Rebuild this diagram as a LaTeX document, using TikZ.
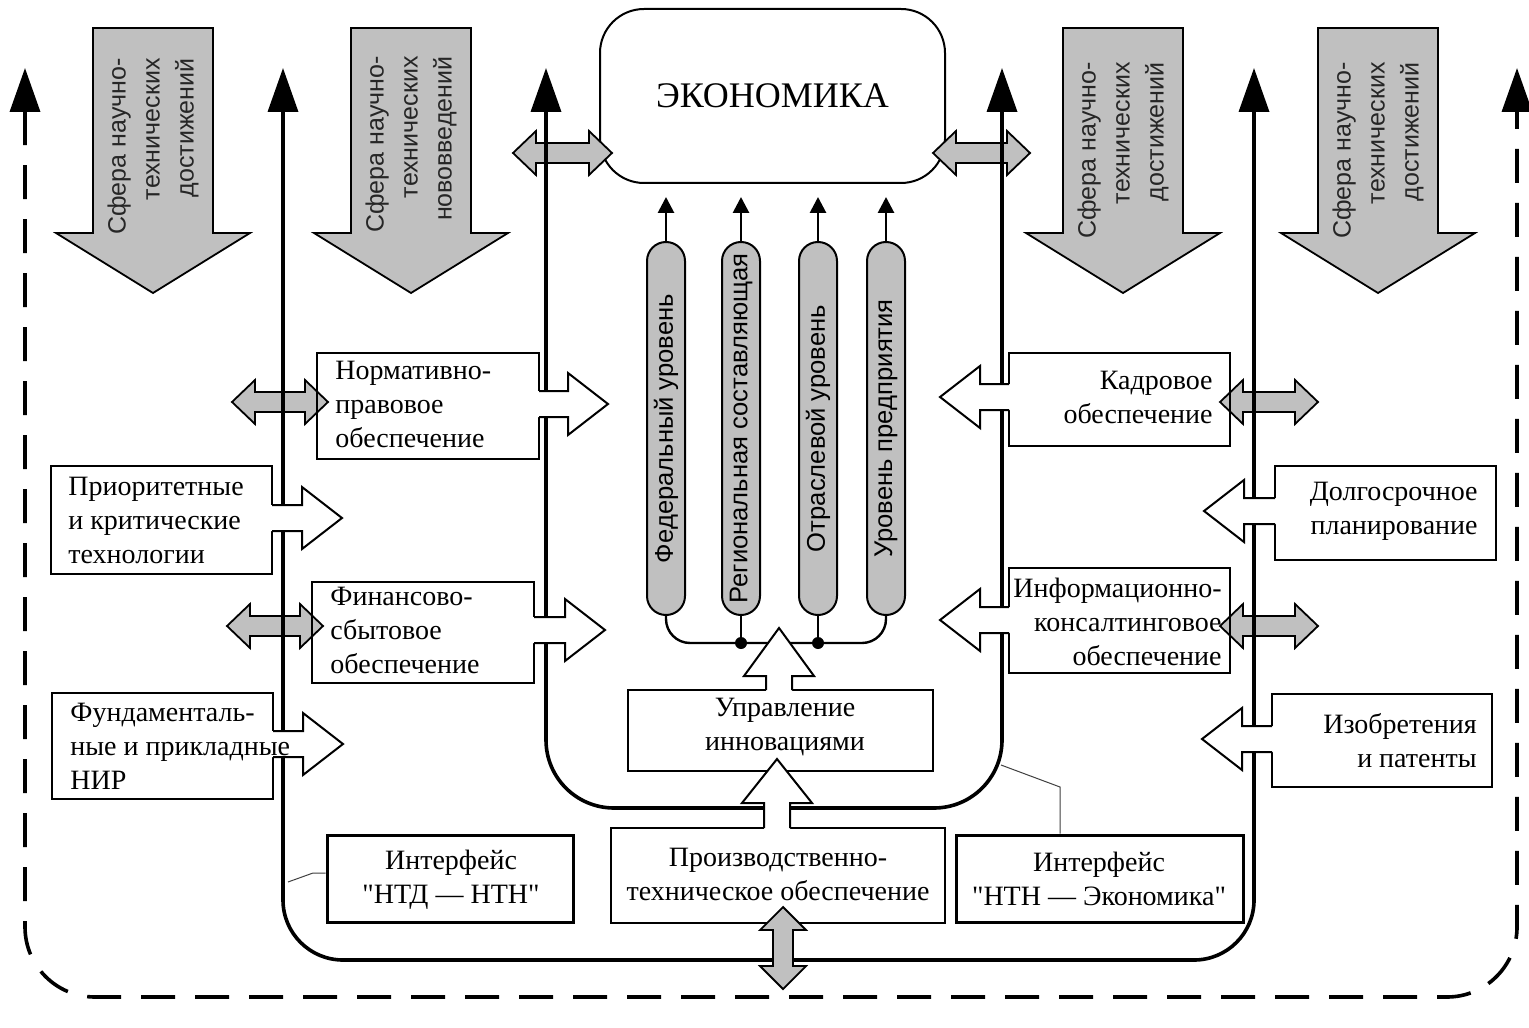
\documentclass[tikz,border=0pt]{standalone}
\usepackage{fontspec}
\setmainfont{Liberation Serif}[Ligatures=TeXOff]
\setsansfont{Liberation Sans}
\usetikzlibrary{arrows.meta}
\definecolor{agray}{RGB}{192,192,192}
\newcommand{\myHDbl}[3]{%
\draw[grayarr] (#1,#3) -- ({#1+23},{#3-22}) -- ({#1+23},{#3-10}) -- ({#2-23},{#3-10}) -- ({#2-23},{#3-22}) -- (#2,#3) -- ({#2-23},{#3+22}) -- ({#2-23},{#3+10}) -- ({#1+23},{#3+10}) -- ({#1+23},{#3+22}) -- cycle;}
\newcommand{\myVDbl}[3]{%
\draw[grayarr] (#1,#2) -- ({#1+23},{#2+23}) -- ({#1+10},{#2+23}) -- ({#1+10},{#3-23}) -- ({#1+23},{#3-23}) -- (#1,#3) -- ({#1-23},{#3-23}) -- ({#1-10},{#3-23}) -- ({#1-10},{#2+23}) -- ({#1-23},{#2+23}) -- cycle;}
\newcommand{\myRArr}[3]{%
\fill[white] ({#1-2},{#3-13}) -- ({#2-40},{#3-13}) -- ({#2-40},{#3-31}) -- (#2,#3) -- ({#2-40},{#3+31}) -- ({#2-40},{#3+13}) -- ({#1-2},{#3+13}) -- cycle;
\draw[wline] (#1,{#3-13}) -- ({#2-40},{#3-13}) -- ({#2-40},{#3-31}) -- (#2,#3) -- ({#2-40},{#3+31}) -- ({#2-40},{#3+13}) -- (#1,{#3+13});}
\newcommand{\myLArr}[3]{%
\fill[white] ({#1+2},{#3-13}) -- ({#2+40},{#3-13}) -- ({#2+40},{#3-31}) -- (#2,#3) -- ({#2+40},{#3+31}) -- ({#2+40},{#3+13}) -- ({#1+2},{#3+13}) -- cycle;
\draw[wline] (#1,{#3-13}) -- ({#2+40},{#3-13}) -- ({#2+40},{#3-31}) -- (#2,#3) -- ({#2+40},{#3+31}) -- ({#2+40},{#3+13}) -- (#1,{#3+13});}
\newcommand{\myUArr}[4]{%
\fill[white] ({#1-13},{#2+2}) -- ({#1-13},{#3+#4}) -- ({#1-35},{#3+#4}) -- (#1,#3) -- ({#1+35},{#3+#4}) -- ({#1+13},{#3+#4}) -- ({#1+13},{#2+2}) -- cycle;
\draw[wline] ({#1-13},#2) -- ({#1-13},{#3+#4}) -- ({#1-35},{#3+#4}) -- (#1,#3) -- ({#1+35},{#3+#4}) -- ({#1+13},{#3+#4}) -- ({#1+13},#2);}
\newcommand{\myDownArr}[1]{%
\draw[grayarr] ({#1-60},28) -- ({#1+60},28) -- ({#1+60},233) -- ({#1+97},233) -- (#1,293) -- ({#1-97},233) -- ({#1-60},233) -- cycle;}
\tikzset{
  thk/.style={line width=1.8pt},
  bothtips/.style={arrows={Triangle[length=22pt,width=15pt]-Triangle[length=22pt,width=15pt]}},
  bx/.style={draw, line width=1pt, inner sep=0pt},
  ibx/.style={draw, line width=1.5pt, inner sep=0pt},
  txt/.style={inner sep=0pt, font=\fontsize{14pt}{17pt}\selectfont},
  grayarr/.style={draw, fill=agray, line width=0.9pt, line join=miter},
  wline/.style={draw, line width=1pt, line join=miter},
  pill/.style={draw, fill=agray, line width=1pt, rotate=90, rounded corners=9.5pt, minimum width=186.5pt, minimum height=19pt, inner sep=0pt, font=\sffamily\fontsize{12.8pt}{14pt}\selectfont},
  pillarr/.style={line width=1.4pt, arrows={-Triangle[length=8pt,width=8pt]}},
  conn/.style={line width=1.2pt},
  dot/.style={circle, fill=black, inner sep=0pt, minimum size=6pt},
  thinc/.style={line width=0.5pt, draw=black!75},
  sphtxt/.style={rotate=90, anchor=east, align=right, inner sep=0pt, text=black!85, font=\sffamily\fontsize{12.5pt}{17pt}\selectfont}
}
\begin{document}
\begin{tikzpicture}[x=0.5pt,y=-0.5pt]
\fill[white] (0,0) rectangle (1529,1027);
\useasboundingbox (0,0) rectangle (1529,1027);
% top grey arrows
\myDownArr{153}
\myDownArr{411}
\myDownArr{1123}
\myDownArr{1378}
% economy box
\node[bx, rounded corners=22pt, minimum width=172.5pt, minimum height=87pt, font=\fontsize{18pt}{20pt}\selectfont] (econ) at (772.5,96) {ЭКОНОМИКА};
% grey double arrows
\myHDbl{513}{612}{153}
\myHDbl{933}{1030}{153}
\myHDbl{232}{328}{402}
\myHDbl{227}{323}{626}
\myHDbl{1220}{1318}{402}
\myHDbl{1220}{1318}{626}
% frame lines
\coordinate (dTL) at (25,68);
\coordinate (dBL) at (25,997);
\coordinate (dBR) at (1517,997);
\coordinate (dTR) at (1517,68);
\coordinate (oTL) at (283,68);
\coordinate (oBL) at (283,960);
\coordinate (oBR) at (1254,960);
\coordinate (oTR) at (1254,68);
\coordinate (uTL) at (546,68);
\coordinate (uBL) at (546,808);
\coordinate (uBR) at (1002,808);
\coordinate (uTR) at (1002,68);
\draw[thk, bothtips, rounded corners=35pt, dash pattern=on 17pt off 10pt] (dTL) -- (dBL) -- (dBR) -- (dTR);
\draw[thk, bothtips, rounded corners=30pt] (oTL) -- (oBL) -- (oBR) -- (oTR);
\draw[thk, bothtips, rounded corners=34pt] (uTL) -- (uBL) -- (uBR) -- (uTR);
% pills
\node[pill] (p1) at (666,428.5) {Федеральный уровень};
\node[pill] (p2) at (741,428.5) {Региональная составляющая};
\node[pill] (p3) at (818,428.5) {Отраслевой уровень};
\node[pill] (p4) at (886,428.5) {Уровень предприятия};
\coordinate (a1) at (666,197);
\coordinate (a2) at (741,197);
\coordinate (a3) at (818,197);
\coordinate (a4) at (886,197);
\draw[pillarr] (p1.east) -- (a1);
\draw[pillarr] (p2.east) -- (a2);
\draw[pillarr] (p3.east) -- (a3);
\draw[pillarr] (p4.east) -- (a4);
\draw[conn, rounded corners=12pt] (p1.west) -- (666,643) -- (886,643) -- (p4.west);
\node[dot] (j2) at (741,643) {};
\node[dot] (j3) at (818,643) {};
\draw[conn] (p2.west) -- (j2);
\draw[conn] (p3.west) -- (j3);
% boxes
\node[bx, minimum width=111pt, minimum height=53pt] (norm) at (428,406) {};
\node[bx, minimum width=110.5pt, minimum height=54pt] (prio) at (161.5,520) {};
\node[bx, minimum width=111pt, minimum height=50.5pt] (fin) at (423,632.5) {};
\node[bx, minimum width=110.5pt, minimum height=53pt] (fund) at (162.5,746) {};
\node[bx, minimum width=110.5pt, minimum height=46.5pt] (kadr) at (1119.5,399.5) {};
\node[bx, minimum width=110.5pt, minimum height=47pt] (dolg) at (1385.5,513) {};
\node[bx, minimum width=110.5pt, minimum height=52.5pt] (info) at (1119.5,620.5) {};
\node[bx, minimum width=110pt, minimum height=46.5pt] (izob) at (1382,740.5) {};
\node[bx, minimum width=152.5pt, minimum height=40.5pt] (upr) at (780.5,730.5) {};
\node[bx, minimum width=167pt, minimum height=47.5pt] (proizv) at (778,875.5) {};
\node[ibx, minimum width=123pt, minimum height=43.5pt] (ntd) at (450,878.5) {};
\node[ibx, minimum width=143.5pt, minimum height=43.5pt] (ntn) at (1099.5,878.5) {};
% white block arrows
\myRArr{539}{608}{404}
\myRArr{272}{342}{518}
\myRArr{534}{605}{630}
\myRArr{273}{343}{744}
\myLArr{1009}{940}{397}
\myLArr{1275}{1204}{511}
\myLArr{1009}{940}{620}
\myLArr{1272}{1202}{739}
\myUArr{779}{690}{628}{48}
\myUArr{777}{828}{759}{44}
% bottom grey arrow
\myVDbl{783}{907}{989}
% interface connectors
\coordinate (ntdc) at (288,882);
\coordinate (ntdk) at (313,873);
\draw[thinc] (ntd.west |- ntdk) -- (ntdk) -- (ntdc);
\coordinate (ntnc) at (1001,765);
\coordinate (ntnk) at (1060,787);
\draw[thinc] (ntn.north -| ntnk) -- (ntnk) -- (ntnc);
% texts
\node[sphtxt] (t1) at (153,58) {Сфера научно-\\технических\\достижений};
\node[sphtxt] (t2) at (411,56) {Сфера научно-\\технических\\нововведений};
\node[sphtxt] (t3) at (1123,62) {Сфера научно-\\технических\\достижений};
\node[sphtxt] (t4) at (1378,62) {Сфера научно-\\технических\\достижений};
\node[txt, anchor=west, align=left] (normt) at (335,404.5) {Нормативно-\\правовое\\обеспечение};
\node[txt, anchor=west, align=left] (priot) at (68,520) {Приоритетные\\и критические\\технологии};
\node[txt, anchor=west, align=left] (fint) at (330,630.5) {Финансово-\\сбытовое\\обеспечение};
\node[txt, anchor=west, align=left] (fundt) at (70,746) {Фундаменталь-\\ные и прикладные\\НИР};
\node[txt, anchor=east, align=right] (kadrt) at (1213,397.5) {Кадровое\\обеспечение};
\node[txt, anchor=east, align=right] (dolgt) at (1478,511.5) {Долгосрочное\\планирование};
\node[txt, anchor=east, align=right] (infot) at (1222,621.5) {Информационно-\\консалтинговое\\обеспечение};
\node[txt, anchor=east, align=right] (izobt) at (1477,740.5) {Изобретения\\и патенты};
\node[txt, align=center] (uprt) at (785,727.5) {Управление\\инновациями};
\node[txt, align=center] (proizvt) at (778,874) {Производственно-\\техническое обеспечение};
\node[txt, align=center] (ntdt) at (451,880) {Интерфейс\\"НТД — НТН"};
\node[txt, align=center] (ntnt) at (1099,879) {Интерфейс\\"НТН — Экономика"};
\end{tikzpicture}
\end{document}
